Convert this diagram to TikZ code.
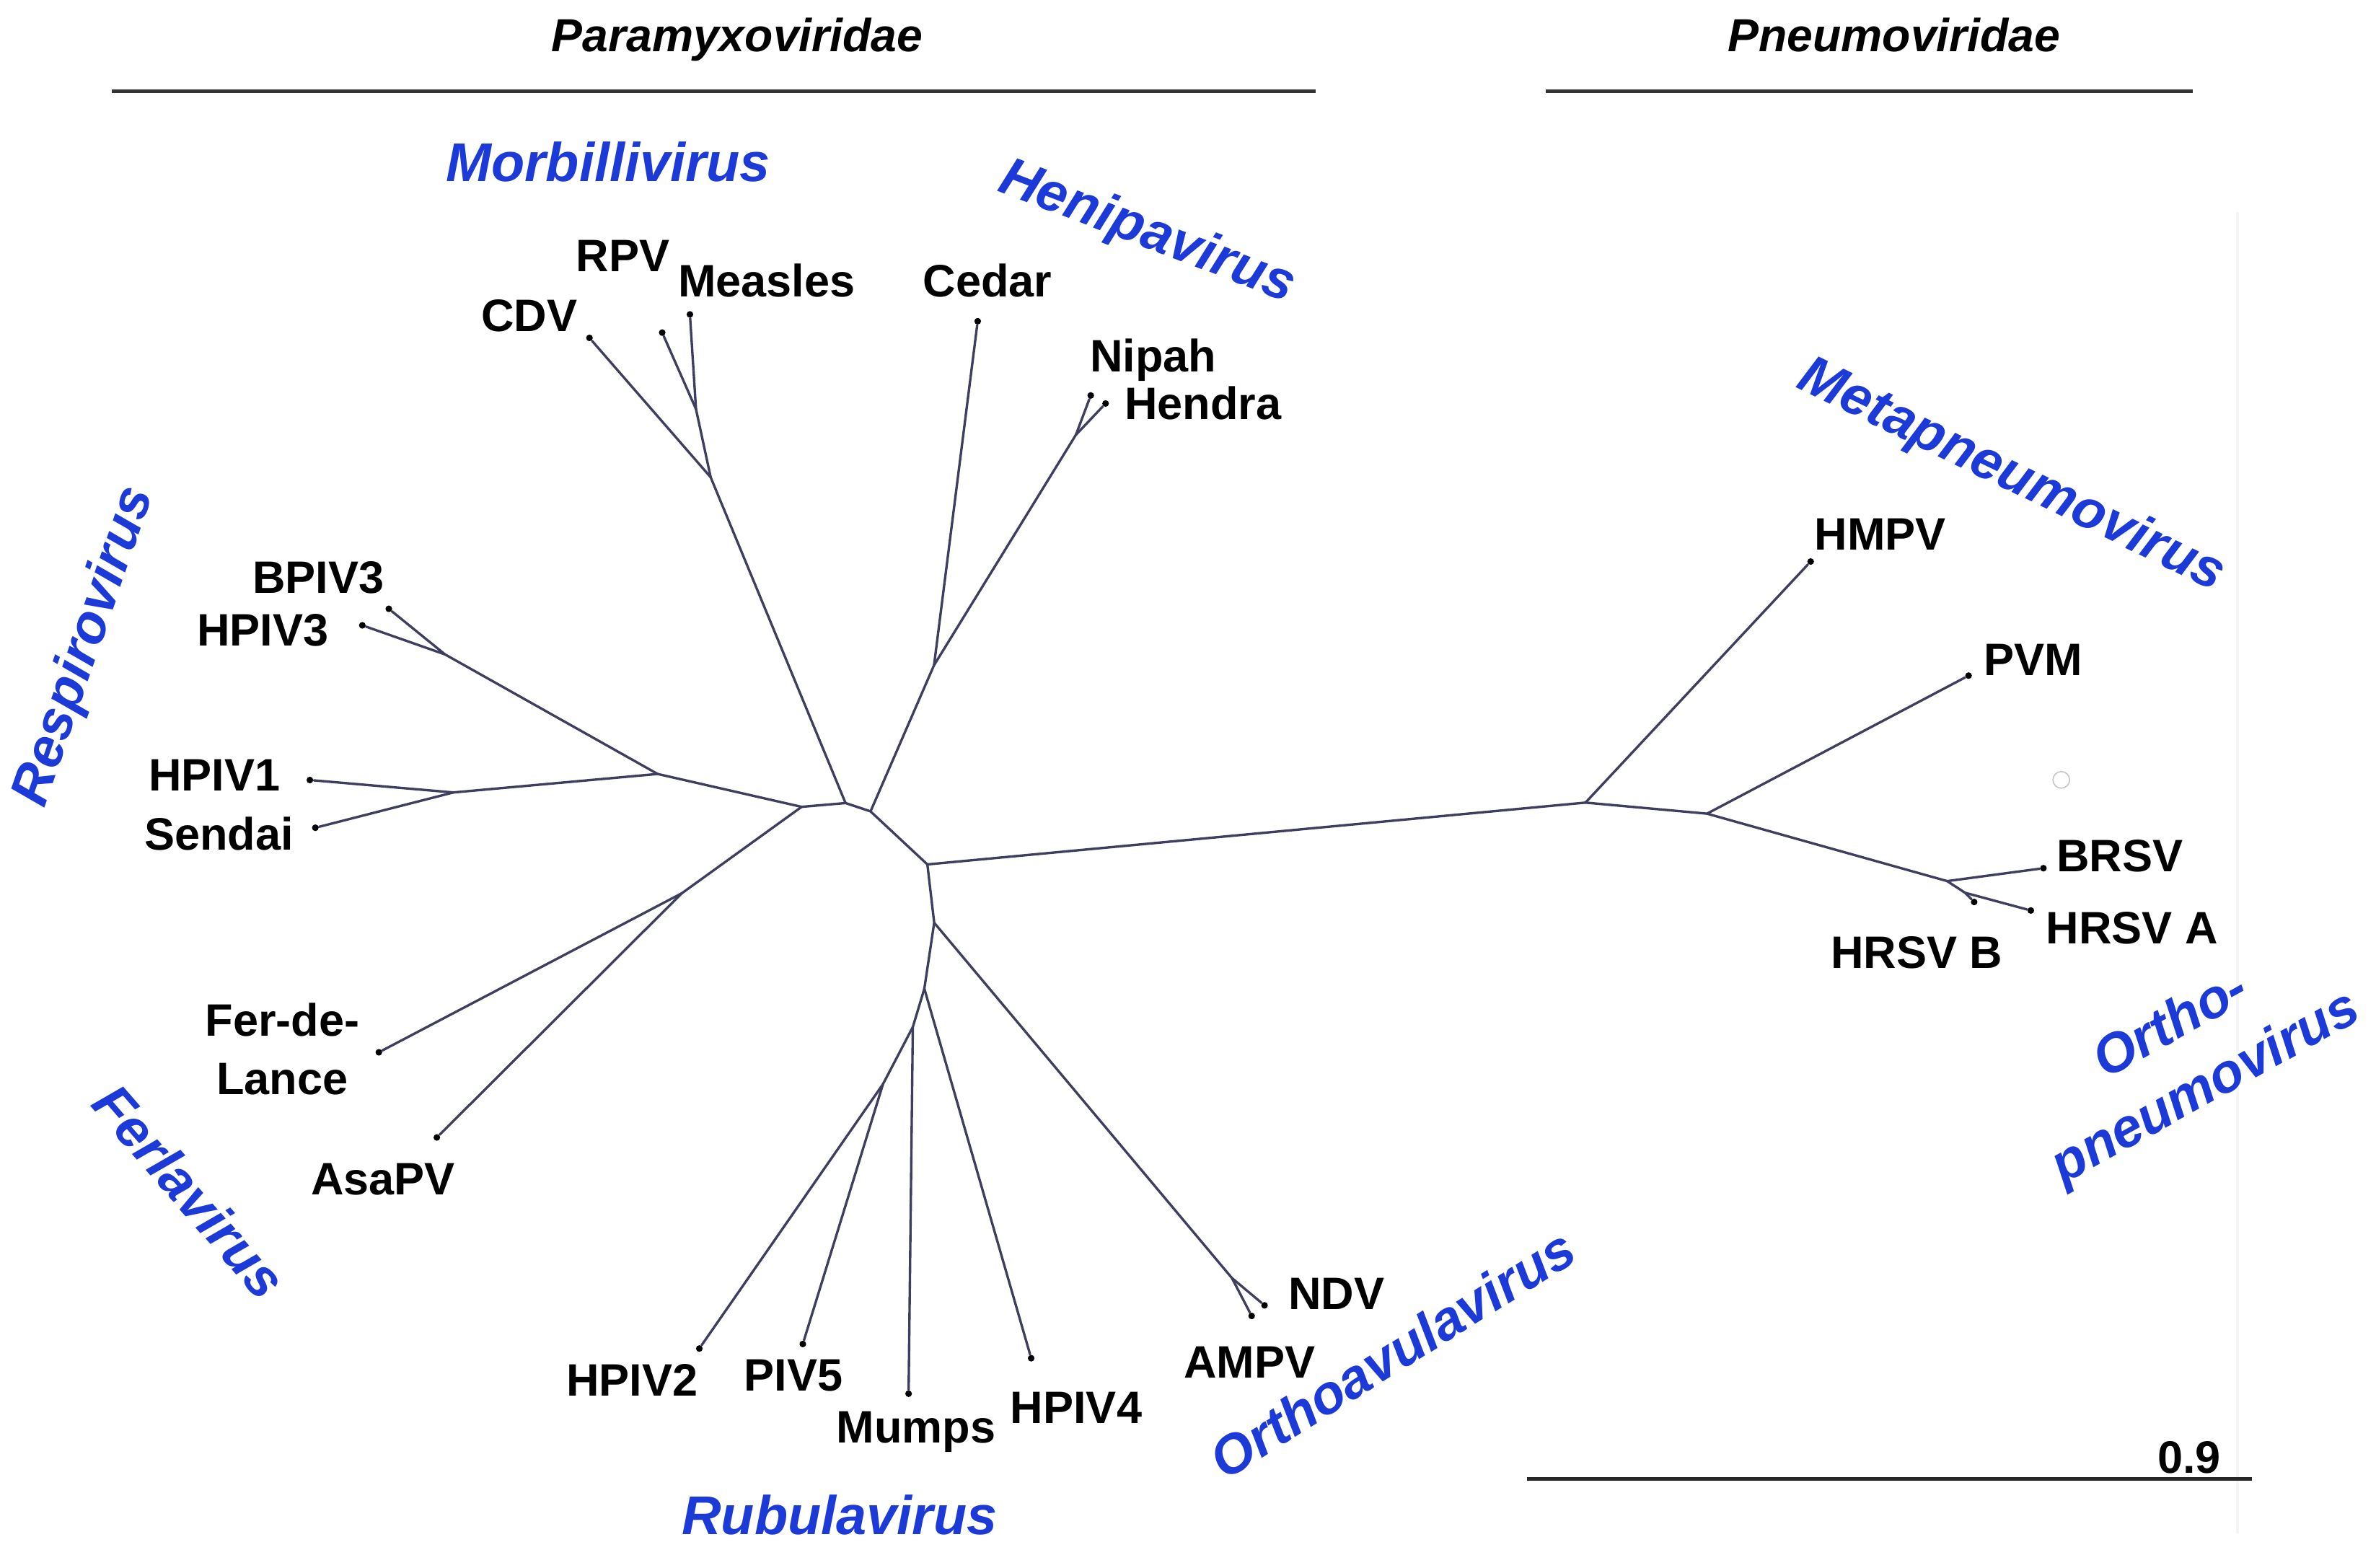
\documentclass[tikz,border=0pt]{standalone}
\usepackage{fontspec}
\setmainfont{Liberation Sans}
\definecolor{branch}{RGB}{62,62,95}
\definecolor{genusblue}{RGB}{28,58,215}
\tikzset{
  br/.style={draw=branch, line width=0.8pt, line cap=round, line join=round},
  tipdot/.style={circle, fill=black, inner sep=0pt, minimum size=2.2pt},
  taxon/.style={font=\bfseries\fontsize{15}{19.4}\selectfont, inner sep=0pt, text depth=0pt},
  genus/.style={font=\bfseries\itshape\fontsize{18}{23.5}\selectfont, text=genusblue, inner sep=0pt},
  family/.style={font=\bfseries\itshape\fontsize{15.3}{18}\selectfont, inner sep=0pt, text depth=0pt},
  rulebar/.style={draw=black!80, line width=1.2pt},
}
\begin{document}
\begin{tikzpicture}[x=0.5pt,y=-0.5pt]
\useasboundingbox (0,0) rectangle (1568,1034.4);

% faint page edge and artifact
\draw[black!4, line width=1pt] (1476.5,140) -- (1476.5,1012);
\node[circle, draw=black!22, line width=0.4pt, minimum size=5.5pt, inner sep=0pt] (artifact) at (1360.3,514.7) {};

% family headers
\node[family] (fPara) at (486.5,23) {Paramyxoviridae};
\node[family] (fPneu) at (1250,23) {Pneumoviridae};
\coordinate (pl1) at (73.9,60.3);
\coordinate (pl2) at (868.3,60.3);
\coordinate (ql1) at (1020,60.3);
\coordinate (ql2) at (1447,60.3);
\draw[rulebar] (pl1) -- (pl2);
\draw[rulebar] (ql1) -- (ql2);

% scale bar
\coordinate (sb1) at (1007.5,976);
\coordinate (sb2) at (1486,976);
\draw[draw=black!85, line width=1.1pt] (sb1) -- (sb2);
\node[taxon] (scl) at (1444.6,962) {0.9};

% internal nodes
\coordinate (rB) at (529,532.5);
\coordinate (mB) at (558,530);
\coordinate (hB) at (574.5,535.5);
\coordinate (pR) at (612,570.5);
\coordinate (oR) at (616.5,609);
\coordinate (uR) at (610,652.5);
\coordinate (resp) at (434,510.8);
\coordinate (r3) at (293.7,431.9);
\coordinate (r1) at (299.2,523);
\coordinate (ferl) at (450,589.5);
\coordinate (mo1) at (469,315);
\coordinate (mo2) at (459.3,270);
\coordinate (he1) at (616.4,439);
\coordinate (he2) at (710,287);
\coordinate (ru1) at (602.4,677.8);
\coordinate (ru2) at (582.7,715.5);
\coordinate (avu) at (813,843.5);
\coordinate (pn1) at (1046.3,529.7);
\coordinate (pn2) at (1126.5,537);
\coordinate (pn3) at (1285,581.5);
\coordinate (pn4) at (1296.8,589.2);

% tips
\node[tipdot] (CDV) at (389,223) {};
\node[tipdot] (RPV) at (437,219.5) {};
\node[tipdot] (Measles) at (455.3,207.5) {};
\node[tipdot] (Cedar) at (645.2,212) {};
\node[tipdot] (Nipah) at (719.8,261) {};
\node[tipdot] (Hendra) at (729.6,266.3) {};
\node[tipdot] (BPIV3) at (256.6,401.8) {};
\node[tipdot] (HPIV3) at (239.1,412.7) {};
\node[tipdot] (HPIV1) at (204.5,514.8) {};
\node[tipdot] (Sendai) at (208.1,546.3) {};
\node[tipdot] (FdL) at (250,694.5) {};
\node[tipdot] (AsaPV) at (288.3,750.7) {};
\node[tipdot] (HPIV2) at (461.5,890) {};
\node[tipdot] (PIV5) at (529.8,887) {};
\node[tipdot] (Mumps) at (599.6,919.8) {};
\node[tipdot] (HPIV4) at (680.5,896.4) {};
\node[tipdot] (NDV) at (834.5,861.5) {};
\node[tipdot] (AMPV) at (826,868.5) {};
\node[tipdot] (HMPV) at (1194.9,370.6) {};
\node[tipdot] (PVM) at (1299.1,445.9) {};
\node[tipdot] (BRSV) at (1348.5,573) {};
\node[tipdot] (HRSVA) at (1340.2,600.9) {};
\node[tipdot] (HRSVB) at (1302.8,595.3) {};

% branches
\draw[br] (rB) -- (mB) -- (hB) -- (pR) -- (oR) -- (uR);
\draw[br] (rB) -- (resp);
\draw[br] (resp) -- (r3);
\draw[br] (r3) -- (BPIV3);
\draw[br] (r3) -- (HPIV3);
\draw[br] (resp) -- (r1);
\draw[br] (r1) -- (HPIV1);
\draw[br] (r1) -- (Sendai);
\draw[br] (rB) -- (ferl);
\draw[br] (ferl) -- (FdL);
\draw[br] (ferl) -- (AsaPV);
\draw[br] (mB) -- (mo1);
\draw[br] (mo1) -- (CDV);
\draw[br] (mo1) -- (mo2);
\draw[br] (mo2) -- (RPV);
\draw[br] (mo2) -- (Measles);
\draw[br] (hB) -- (he1);
\draw[br] (he1) -- (Cedar);
\draw[br] (he1) -- (he2);
\draw[br] (he2) -- (Nipah);
\draw[br] (he2) -- (Hendra);
\draw[br] (pR) -- (pn1);
\draw[br] (pn1) -- (HMPV);
\draw[br] (pn1) -- (pn2);
\draw[br] (pn2) -- (PVM);
\draw[br] (pn2) -- (pn3);
\draw[br] (pn3) -- (BRSV);
\draw[br] (pn3) -- (pn4);
\draw[br] (pn4) -- (HRSVA);
\draw[br] (pn4) -- (HRSVB);
\draw[br] (oR) -- (avu);
\draw[br] (avu) -- (NDV);
\draw[br] (avu) -- (AMPV);
\draw[br] (uR) -- (HPIV4);
\draw[br] (uR) -- (ru1);
\draw[br] (ru1) -- (Mumps);
\draw[br] (ru1) -- (ru2);
\draw[br] (ru2) -- (HPIV2);
\draw[br] (ru2) -- (PIV5);

% taxon labels
\node[taxon] (tRPV) at (411,168.7) {RPV};
\node[taxon] (tMeasles) at (506,185.2) {Measles};
\node[taxon] (tCDV) at (349.2,208.2) {CDV};
\node[taxon] (tCedar) at (651.7,185.2) {Cedar};
\node[taxon] (tNipah) at (761,234.4) {Nipah};
\node[taxon] (tHendra) at (793.8,265.8) {Hendra};
\node[taxon] (tBPIV3) at (210,381) {BPIV3};
\node[taxon] (tHPIV3) at (173.5,416) {HPIV3};
\node[taxon] (tHPIV1) at (141.6,511.5) {HPIV1};
\node[taxon] (tSendai) at (144.4,550.2) {Sendai};
\node[taxon, align=center] (tFdL) at (186.3,692.2) {Fer-de-\\Lance};
\node[taxon] (tAsaPV) at (252.8,778) {AsaPV};
\node[taxon] (tHPIV2) at (417.1,910.7) {HPIV2};
\node[taxon] (tPIV5) at (523.7,907.7) {PIV5};
\node[taxon] (tMumps) at (604.6,941.8) {Mumps};
\node[taxon] (tHPIV4) at (710.2,928.9) {HPIV4};
\node[taxon] (tNDV) at (881.9,853.8) {NDV};
\node[taxon] (tAMPV) at (824.6,899.3) {AMPV};
\node[taxon] (tHMPV) at (1240.9,352.4) {HMPV};
\node[taxon] (tPVM) at (1341.8,435.6) {PVM};
\node[taxon] (tBRSV) at (1399,565) {BRSV};
\node[taxon] (tHRSVA) at (1407,612.3) {HRSV A};
\node[taxon] (tHRSVB) at (1265,628.7) {HRSV B};

% genus labels
\node[genus] (gMorb) at (401.3,106.7) {Morbillivirus};
\node[genus, rotate=-21] (gHen) at (756.9,153.9) {Henipavirus};
\node[genus, rotate=-26] (gMeta) at (1327.3,314.4) {Metapneumovirus};
\node[genus, rotate=71] (gResp) at (56.3,426.8) {Respirovirus};
\node[genus, rotate=-49] (gFerl) at (125.3,786.2) {Ferlavirus};
\node[genus] (gRub) at (554,1000) {Rubulavirus};
\node[genus, rotate=32] (gOrthoa) at (918.7,893.3) {Orthoavulavirus};
\node[genus, rotate=29, align=center] (gOrthop) at (1444.7,698.3) {Ortho-\\pneumovirus};
\end{tikzpicture}
\end{document}
